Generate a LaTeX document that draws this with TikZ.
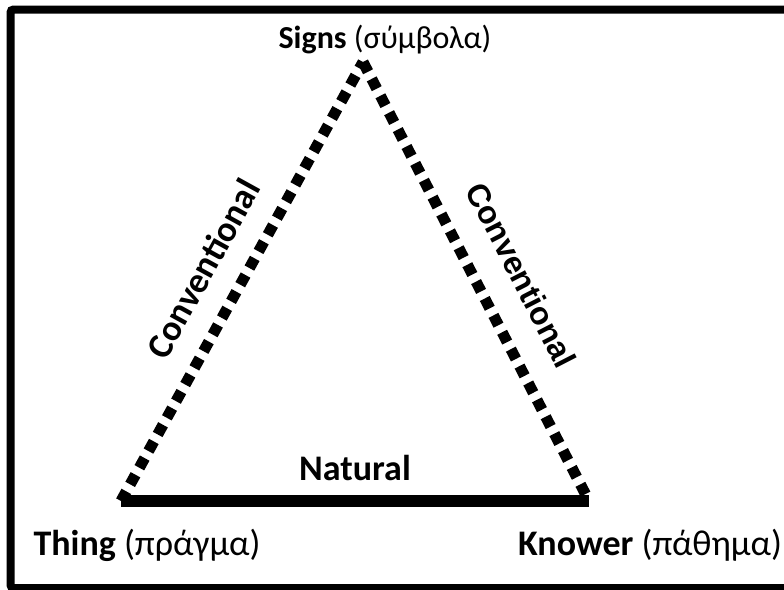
\documentclass[tikz,border=0pt]{standalone}
\usepackage{fontspec}
\setmainfont{Carlito}
\newfontfamily\arialfont{Liberation Sans}
\begin{document}
\begin{tikzpicture}[
  x = 1pt,
  y = -1pt,
  corner/.style = {
    font = \fontsize{36}{40}\selectfont,
    inner sep = 0pt
  },
  edgelabel/.style = {
    font = \fontsize{36}{40}\selectfont\bfseries,
    inner sep = 0pt
  },
  conv/.style = {
    line width = 11pt,
    dash pattern = on 11pt off 8pt
  },
  nat/.style = {
    line width = 12pt
  }
]
  \useasboundingbox (0, 0) rectangle (784, 589);
  \draw[line width = 8pt, rounded corners = 3pt] (10.5, 9.5) rectangle (800, 588);

  \coordinate (signs) at (363, 62);
  \coordinate (thing) at (121, 501);
  \coordinate (knower) at (589, 501);

  \node[corner, font = \fontsize{32}{36}\selectfont] (signslabel) at (385, 40) {\textbf{Signs} (σύμβολα)};
  \node[corner] (thinglabel) at (147, 545) {\textbf{Thing} (πράγμα)};
  \node[corner] (knowerlabel) at (650, 545) {\textbf{Knower} (πάθημα)};

  \draw[conv] (thing) -- node[edgelabel, pos = 0.485, sloped, above = 22pt] (leftconv) {Conventional} (signs);
  \draw[conv] (signs) -- node[edgelabel, pos = 0.53, sloped, above = 26pt, font = \fontsize{32}{36}\selectfont\arialfont\bfseries] (rightconv) {Conventional} (knower);
  \draw[nat] (thing) -- node[edgelabel, midway, above = 14pt] (natlabel) {Natural} (knower);
\end{tikzpicture}
\end{document}
